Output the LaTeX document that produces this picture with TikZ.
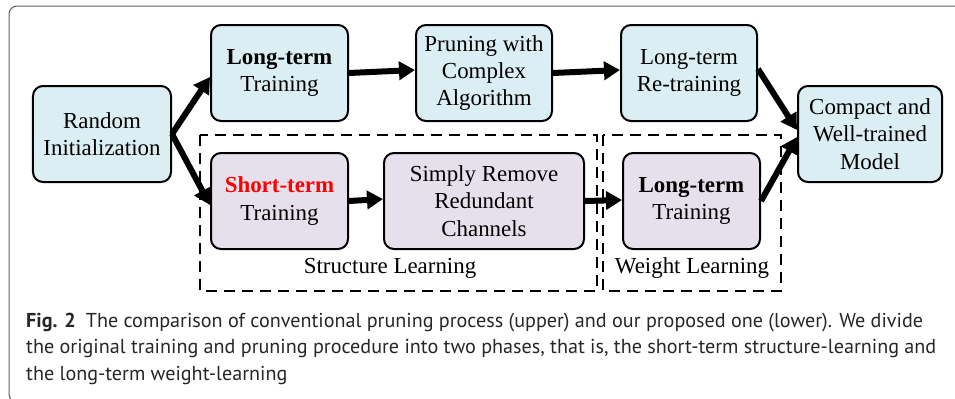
\documentclass[tikz,border=0pt]{standalone}
\usepackage{fontspec}
\setmainfont{Liberation Serif}
\newfontfamily\captionFont{PT Sans}
\usetikzlibrary{arrows.meta}
\tikzstyle{pixels} = [x = 1bp, y = -1bp]
\definecolor{upperFill}{HTML}{DAEEF3}
\definecolor{lowerFill}{HTML}{E6E0EC}
\definecolor{frameColor}{RGB}{95,95,95}
\tikzstyle{stepBox} = [draw=black, line width=2bp, rounded corners=10bp, minimum height=96bp, inner sep=0pt, align=center, font=\fontsize{23}{27.5}\selectfont]
\tikzstyle{upperBox} = [stepBox, fill=upperFill]
\tikzstyle{lowerBox} = [stepBox, fill=lowerFill]
\tikzstyle{flowArrow} = [line width=6bp, -{Triangle[length=16bp, width=18bp]}]
\tikzstyle{phaseFrame} = [line width=2.2bp, dash pattern=on 11bp off 7bp]
\tikzstyle{phaseText} = [font=\fontsize{23}{27.5}\selectfont]
\tikzstyle{captionText} = [anchor=base west, inner sep=0pt, font=\captionFont\fontsize{20.2}{26.7}\selectfont, text=black!85]
\newcommand{\upperStep}[4]{\node [upperBox, minimum width=#3bp] (#1) at (#2) {#4};}
\newcommand{\lowerStep}[4]{\node [lowerBox, minimum width=#3bp] (#1) at (#2) {#4};}

\begin{document}
\begin{tikzpicture}[pixels]
  \useasboundingbox (0,0) rectangle (955,398);
  \clip (0,0) rectangle (955,398);
  \draw [frameColor, line width=1bp, rounded corners=8bp] (9,6) rectangle (975,402);
  % phases of the proposed process
  \draw [phaseFrame] (200,135) rectangle (597,291);
  \draw [phaseFrame] (603,135) rectangle (781,291);
  \node [phaseText] (structureLabel) at (390,268) {Structure Learning};
  \node [phaseText] (weightLabel) at (692,268) {Weight Learning};
  % steps
  \upperStep{init}{102,134}{138}{Random\\Initialization}
  \upperStep{longTop}{279.5,73}{137}{\textbf{Long-term}\\Training}
  \upperStep{prune}{484,73}{136}{Pruning with\\Complex\\Algorithm}
  \upperStep{retrain}{689,73}{136}{Long-term\\Re-training}
  \upperStep{model}{870,134}{144}{Compact and\\Well-trained\\Model}
  \lowerStep{shortBottom}{279.5,201}{137}{\textcolor{red}{\textbf{Short-term}}\\Training}
  \lowerStep{remove}{484,201}{200}{Simply Remove\\Redundant\\Channels}
  \lowerStep{longBottom}{691.5,201}{137}{\textbf{Long-term}\\Training}
  % connectors
  \draw [flowArrow] (init.east) -- ([yshift=-4bp]longTop.west);
  \draw [flowArrow] (init.east) -- ([yshift=-4bp]shortBottom.west);
  \draw [flowArrow] (longTop.east) -- ([yshift=3bp]prune.west);
  \draw [flowArrow] (prune.east) -- ([yshift=3bp]retrain.west);
  \draw [flowArrow] ([yshift=4bp]retrain.east) -- ([yshift=4bp]model.west);
  \draw [flowArrow] (shortBottom.east) -- ([yshift=2bp]remove.west);
  \draw [flowArrow] (remove.east) -- ([yshift=1bp]longBottom.west);
  \draw [flowArrow] (longBottom.east) -- ([yshift=-3bp]model.west);
  % caption
  \node [captionText] (captionFirst) at (26,327) {\textbf{Fig. 2}\enspace The comparison of conventional pruning process (upper) and our proposed one (lower). We divide};
  \node [captionText] (captionSecond) at (26,353.7) {the original training and pruning procedure into two phases, that is, the short-term structure-learning and};
  \node [captionText] (captionThird) at (26,380.4) {the long-term weight-learning};
\end{tikzpicture}
\end{document}
